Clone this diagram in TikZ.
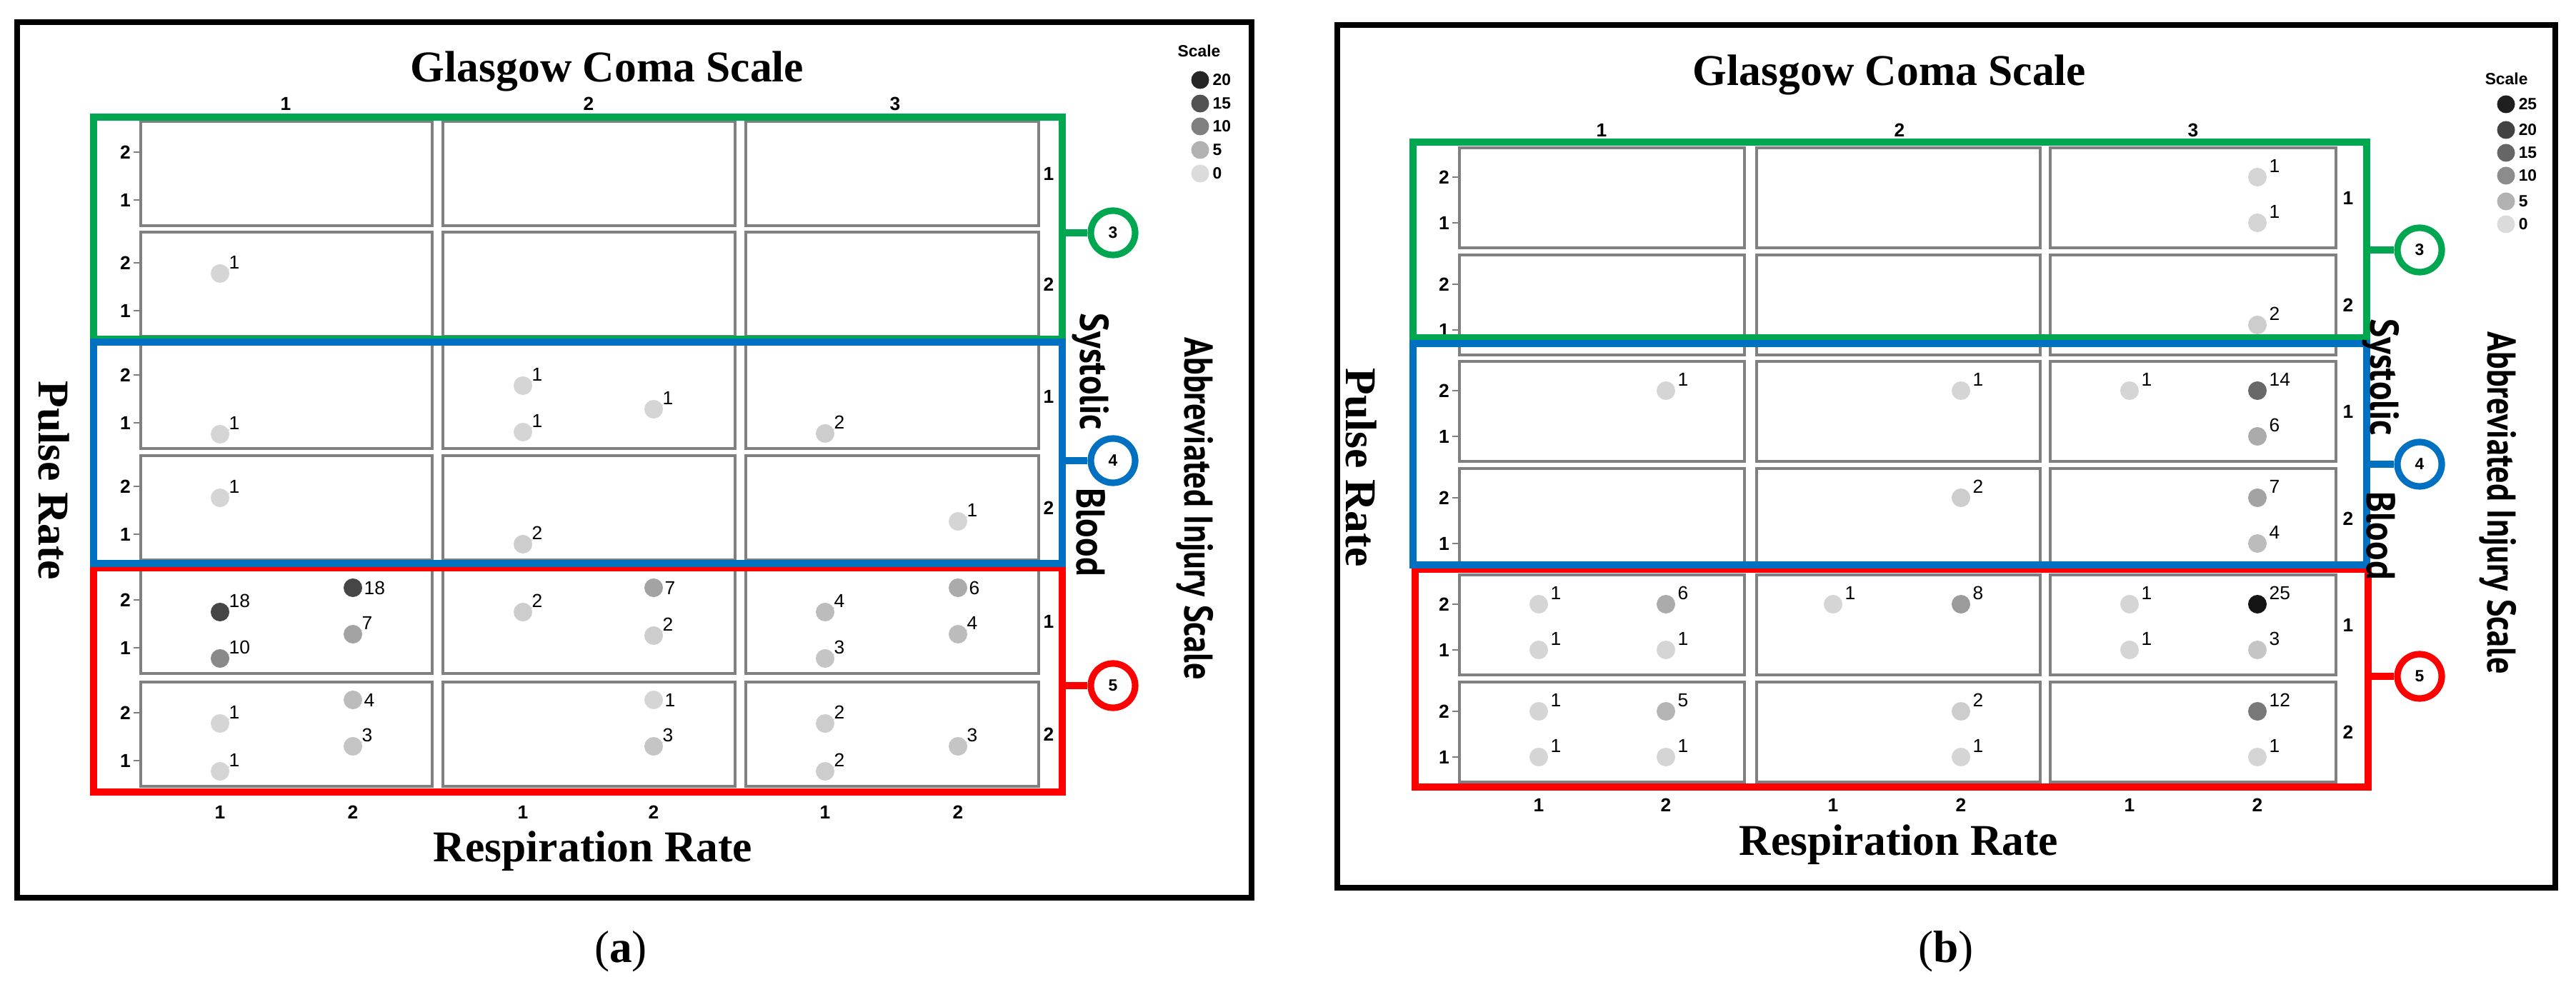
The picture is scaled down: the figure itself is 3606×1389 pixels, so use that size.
\documentclass[tikz,border=0pt]{standalone}
\usepackage{fontspec}
\setmainfont{Liberation Serif}
\setsansfont{Liberation Sans}
\newfontfamily\condf{PT Sans}
\definecolor{grpgreen}{HTML}{00A650}
\definecolor{grpblue}{HTML}{0070C0}
\definecolor{grpred}{HTML}{FF0000}
\begin{document}
\begin{tikzpicture}[x=0.01cm,y=-0.01cm,
  panel/.style={draw=black!50, line width=0.9pt, fill=white},
  grp/.style={line width=2.6pt},
  frame/.style={draw=black, line width=2.2pt},
  tit/.style={font=\bfseries\fontsize{17.5}{18}\selectfont, inner sep=0},
  tick/.style={font=\sffamily\bfseries\fontsize{7.5}{8}\selectfont, inner sep=1pt},
  dot/.style={circle, inner sep=0, minimum size=0.26cm, draw=none},
  val/.style={font=\sffamily\fontsize{7.5}{8}\selectfont, inner sep=0},
  badge/.style={circle, draw, line width=2.6pt, minimum size=0.62cm, inner sep=0, fill=white, font=\sffamily\bfseries\fontsize{6.5}{6.5}\selectfont},
  side/.style={font=\condf\bfseries\fontsize{16}{16}\selectfont, rotate=-90, inner sep=0},
  leg/.style={circle, inner sep=0, minimum size=0.25cm},
  legt/.style={font=\sffamily\bfseries\fontsize{6.5}{6.5}\selectfont, anchor=west, inner sep=0},
  lead/.style={black!45, line width=0.5pt}]
\useasboundingbox (0,0) rectangle (3606,1389);

% ================= Panel (a) =================
\draw[frame] (24,31) rectangle (1752,1257);
\node[tit] (ta) at (850,100) {Glasgow Coma Scale};
\foreach \x/\l [count=\c] in {400/1,824/2,1253/3} \node[tick] (ca\c) at (\x,145) {\l};
\foreach \t [count=\r] in {170,325,482,638,797,955} {
  \foreach \cl/\cr [count=\c] in {197/605,620/1029,1044/1454}
    \draw[panel] (\cl,\t) rectangle (\cr,\t+146);
  \draw[black!50] (187,\t+43) -- (197,\t+43);
  \draw[black!50] (187,\t+110) -- (197,\t+110);
  \node[tick,anchor=east] (ya\r t) at (187,\t+43) {2};
  \node[tick,anchor=east] (ya\r b) at (187,\t+110) {1};
  \pgfmathtruncatemacro\lab{mod(\r+1,2)+1}
  \node[tick] (ra\r) at (1468,\t+73) {\lab};
}
\foreach \x/\l [count=\c] in {308/1,494/2,732/1,915/2,1155/1,1341/2}
  \node[tick] (xa\c) at (\x,1137) {\l};
\draw[grp,grpgreen] (131,164) rectangle (1487,475);
\draw[grp,grpred] (131,795) rectangle (1487,1109);
\draw[grp,grpblue] (131,479) rectangle (1487,789);
\foreach \y/\n/\col in {326/3/grpgreen,645/4/grpblue,960/5/grpred} {
  \coordinate (ga\n) at (1487,\y);
  \node[badge,draw=\col] (ba\n) at (1558,\y) {\n};
  \draw[grp,\col] (ga\n) -- (ba\n);
}
\foreach \x/\y/\v/\s [count=\i] in {
  308/383/1/0,
  308/608/1/0, 732/540/1/0, 732/605/1/0, 915/573/1/0, 1155/607/2/0,
  308/697/1/0, 732/762/2/0, 1341/730/1/0,
  308/857/18/0, 308/922/10/0, 494/823/18/1, 494/888/7/0, 732/857/2/0, 915/823/7/1, 915/890/2/0, 1155/857/4/0, 1155/922/3/0, 1341/823/6/1, 1341/888/4/0,
  308/1013/1/0, 308/1080/1/0, 494/980/4/1, 494/1045/3/0, 915/980/1/1, 915/1045/3/0, 1155/1013/2/0, 1155/1080/2/0, 1341/1045/3/0} {
  \pgfmathsetmacro\k{min(13+3.3*\v,92)}
  \node[dot, fill=black!\k] (da\i) at (\x,\y) {};
  \ifnum\s=0
    \node[val, anchor=south west] (la\i) at (\x+12,\y-6) {\v};
    \draw[lead] (da\i) -- (la\i.south west);
  \else
    \node[val, anchor=west] (la\i) at (\x+15,\y) {\v};
  \fi
}
\node[tit, rotate=-90] (pa) at (75,673) {Pulse Rate};
\node[tit] (rsa) at (830,1192) {Respiration Rate};
\node[side] (sya) at (1527,520) {\scalebox{0.88}[1]{Systolic}};
\node[side] (bla) at (1527,745) {\scalebox{0.88}[1]{Blood}};
\node[side] (aia) at (1673,712) {\scalebox{0.82}[1]{Abbreviated Injury Scale}};
\node[legt] (sca) at (1648,71) {Scale};
\foreach \y/\l/\g [count=\i] in {112/20/85,145/15/68,177/10/50,210/5/30,243/0/14} {
  \node[leg, fill=black!\g] (lca\i) at (1680,\y) {};
  \node[legt] (lta\i) at (1697,\y) {\l};
}
\node[font=\fontsize{18}{20}\selectfont] (capa) at (869,1332) {(\textbf{a})};

% ================= Panel (b) =================
\draw[frame] (1872,35) rectangle (3577,1243);
\node[tit] (tb) at (2645,105) {Glasgow Coma Scale};
\foreach \x/\l [count=\c] in {2242/1,2659/2,3070/3} \node[tick] (cb\c) at (\x,182) {\l};
\foreach \t [count=\r] in {207,357,506,656,805,955} {
  \foreach \cl/\cr [count=\c] in {2043/2442,2459/2856,2870/3270}
    \draw[panel] (\cl,\t) rectangle (\cr,\t+140);
  \draw[black!50] (2033,\t+41) -- (2043,\t+41);
  \draw[black!50] (2033,\t+105) -- (2043,\t+105);
  \node[tick,anchor=east] (yb\r t) at (2033,\t+41) {2};
  \node[tick,anchor=east] (yb\r b) at (2033,\t+105) {1};
  \pgfmathtruncatemacro\lab{mod(\r+1,2)+1}
  \node[tick] (rb\r) at (3287,\t+70) {\lab};
}
\foreach \x/\l [count=\c] in {2154/1,2332/2,2566/1,2745/2,2981/1,3160/2}
  \node[tick] (xb\c) at (\x,1127) {\l};
\draw[grp,grpgreen] (1978,199) rectangle (3313,473);
\draw[grp,grpred] (1981,797) rectangle (3315,1102);
\draw[grp,grpblue] (1978,481) rectangle (3313,791);
\foreach \y/\n/\col in {350/3/grpgreen,650/4/grpblue,947/5/grpred} {
  \coordinate (gb\n) at (3314,\y);
  \node[badge,draw=\col] (bb\n) at (3387,\y) {\n};
  \draw[grp,\col] (gb\n) -- (bb\n);
}
\foreach \x/\y/\v [count=\i] in {
  3160/248/1, 3160/312/1,
  3160/455/2,
  2332/547/1, 2745/547/1, 2981/547/1, 3160/547/14, 3160/611/6,
  2745/697/2, 3160/697/7, 3160/761/4,
  2154/846/1, 2154/910/1, 2332/846/6, 2332/910/1, 2566/846/1, 2745/846/8, 2981/846/1, 2981/910/1, 3160/846/25, 3160/910/3,
  2154/996/1, 2154/1060/1, 2332/996/5, 2332/1060/1, 2745/996/2, 2745/1060/1, 3160/996/12, 3160/1060/1} {
  \pgfmathsetmacro\k{min(13+3.3*\v,92)}
  \node[dot, fill=black!\k] (db\i) at (\x,\y) {};
  \node[val, anchor=south west] (lb\i) at (\x+16,\y-6) {\v};
}
\node[tit, rotate=-90] (pb) at (1905,655) {Pulse Rate};
\node[tit] (rsb) at (2658,1183) {Respiration Rate};
\node[side] (syb) at (3333,528) {\scalebox{0.88}[1]{Systolic}};
\node[side] (blb) at (3333,750) {\scalebox{0.88}[1]{Blood}};
\node[side] (aib) at (3497,704) {\scalebox{0.82}[1]{Abbreviated Injury Scale}};
\node[legt] (scb) at (3478,110) {Scale};
\foreach \y/\l/\g [count=\i] in {146/25/88,182/20/74,214/15/60,246/10/45,282/5/30,314/0/14} {
  \node[leg, fill=black!\g] (lcb\i) at (3508,\y) {};
  \node[legt] (ltb\i) at (3525,\y) {\l};
}
\node[font=\fontsize{18}{20}\selectfont] (capb) at (2724,1332) {(\textbf{b})};
\end{tikzpicture}
\end{document}
